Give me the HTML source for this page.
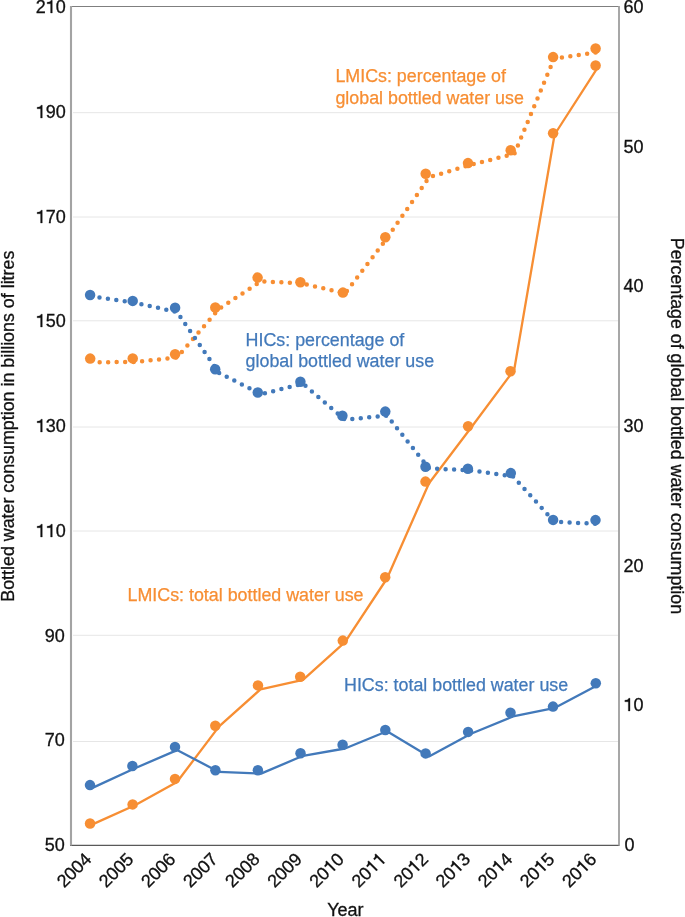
<!DOCTYPE html>
<html><head><meta charset="utf-8"><title>Bottled water consumption</title>
<style>
html,body{margin:0;padding:0;background:#fff;}
body{width:685px;height:917px;overflow:hidden;}
svg{display:block;will-change:transform;}
.t{font-family:"Liberation Sans",sans-serif;font-size:18px;fill:#111;stroke:#111;stroke-width:0.3px;}
.s{font-family:"Liberation Sans",sans-serif;font-size:17.85px;stroke-width:0.25px;}
</style></head><body>
<svg width="685" height="917" viewBox="0 0 685 917">
<line x1="73" y1="112.7" x2="618" y2="112.7" stroke="#E6E6E6" stroke-width="1"/>
<line x1="73" y1="217.0" x2="618" y2="217.0" stroke="#E6E6E6" stroke-width="1"/>
<line x1="73" y1="320.8" x2="618" y2="320.8" stroke="#E6E6E6" stroke-width="1"/>
<line x1="73" y1="427.0" x2="618" y2="427.0" stroke="#E6E6E6" stroke-width="1"/>
<line x1="73" y1="531.0" x2="618" y2="531.0" stroke="#E6E6E6" stroke-width="1"/>
<line x1="73" y1="635.3" x2="618" y2="635.3" stroke="#E6E6E6" stroke-width="1"/>
<line x1="73" y1="741.5" x2="618" y2="741.5" stroke="#E6E6E6" stroke-width="1"/>
<line x1="70.5" y1="6.5" x2="619" y2="6.5" stroke="#7F7F7F" stroke-width="1"/>
<line x1="70" y1="845.3" x2="619.5" y2="845.3" stroke="#595959" stroke-width="1.3"/>
<line x1="71" y1="6" x2="71" y2="845.5" stroke="#A3A3A3" stroke-width="2.1"/>
<line x1="619" y1="6" x2="619" y2="845.5" stroke="#9E9E9E" stroke-width="1.8"/>
<g><text x="35.77" y="13" class="t">2&#8199;0</text><path d="M52.29,13.00 L52.29,0.24 L51.03,0.24 L50.64,1.03 L49.92,1.75 L48.66,2.11 L47.13,2.24 L47.13,3.78 L50.60,3.78 L50.60,13.00Z" fill="#111" stroke="#111" stroke-width="0.3"/></g>
<g><text x="35.77" y="118" class="t">&#8199;90</text><path d="M42.28,118.00 L42.28,105.24 L41.02,105.24 L40.63,106.03 L39.91,106.75 L38.65,107.11 L37.12,107.24 L37.12,108.78 L40.59,108.78 L40.59,118.00Z" fill="#111" stroke="#111" stroke-width="0.3"/></g>
<g><text x="35.77" y="223" class="t">&#8199;70</text><path d="M42.28,223.00 L42.28,210.24 L41.02,210.24 L40.63,211.03 L39.91,211.75 L38.65,212.11 L37.12,212.24 L37.12,213.78 L40.59,213.78 L40.59,223.00Z" fill="#111" stroke="#111" stroke-width="0.3"/></g>
<g><text x="35.77" y="327" class="t">&#8199;50</text><path d="M42.28,327.00 L42.28,314.24 L41.02,314.24 L40.63,315.03 L39.91,315.75 L38.65,316.11 L37.12,316.24 L37.12,317.78 L40.59,317.78 L40.59,327.00Z" fill="#111" stroke="#111" stroke-width="0.3"/></g>
<g><text x="35.77" y="432" class="t">&#8199;30</text><path d="M42.28,432.00 L42.28,419.24 L41.02,419.24 L40.63,420.03 L39.91,420.75 L38.65,421.11 L37.12,421.24 L37.12,422.78 L40.59,422.78 L40.59,432.00Z" fill="#111" stroke="#111" stroke-width="0.3"/></g>
<g><text x="35.77" y="537" class="t">&#8199;&#8199;0</text><path d="M42.28,537.00 L42.28,524.24 L41.02,524.24 L40.63,525.03 L39.91,525.75 L38.65,526.11 L37.12,526.24 L37.12,527.78 L40.59,527.78 L40.59,537.00Z M52.29,537.00 L52.29,524.24 L51.03,524.24 L50.64,525.03 L49.92,525.75 L48.66,526.11 L47.13,526.24 L47.13,527.78 L50.60,527.78 L50.60,537.00Z" fill="#111" stroke="#111" stroke-width="0.3"/></g>
<g><text x="44.78" y="642" class="t">90</text></g>
<g><text x="44.78" y="746" class="t">70</text></g>
<g><text x="44.78" y="851" class="t">50</text></g>
<g><text x="623.50" y="13" class="t">60</text></g>
<g><text x="623.50" y="153" class="t">50</text></g>
<g><text x="623.50" y="292" class="t">40</text></g>
<g><text x="623.50" y="432" class="t">30</text></g>
<g><text x="623.50" y="572" class="t">20</text></g>
<g><text x="623.50" y="711" class="t">&#8199;0</text><path d="M630.02,711.00 L630.02,698.24 L628.76,698.24 L628.36,699.03 L627.64,699.75 L626.38,700.11 L624.85,700.24 L624.85,701.78 L628.32,701.78 L628.32,711.00Z" fill="#111" stroke="#111" stroke-width="0.3"/></g>
<g><text x="624.50" y="851" class="t">0</text></g>
<g transform="rotate(-45 92.5 860.3)"><text x="52.46" y="860.3" class="t">2004</text></g>
<g transform="rotate(-45 134.6 860.3)"><text x="94.56" y="860.3" class="t">2005</text></g>
<g transform="rotate(-45 176.7 860.3)"><text x="136.66" y="860.3" class="t">2006</text></g>
<g transform="rotate(-45 218.8 860.3)"><text x="178.76" y="860.3" class="t">2007</text></g>
<g transform="rotate(-45 260.9 860.3)"><text x="220.86" y="860.3" class="t">2008</text></g>
<g transform="rotate(-45 303.0 860.3)"><text x="262.96" y="860.3" class="t">2009</text></g>
<g transform="rotate(-45 345.1 860.3)"><text x="305.06" y="860.3" class="t">20&#8199;0</text><path d="M331.59,860.30 L331.59,847.54 L330.33,847.54 L329.94,848.33 L329.22,849.05 L327.96,849.41 L326.43,849.54 L326.43,851.08 L329.90,851.08 L329.90,860.30Z" fill="#111" stroke="#111" stroke-width="0.3"/></g>
<g transform="rotate(-45 387.2 860.3)"><text x="347.16" y="860.3" class="t">20&#8199;&#8199;</text><path d="M373.69,860.30 L373.69,847.54 L372.43,847.54 L372.04,848.33 L371.32,849.05 L370.06,849.41 L368.53,849.54 L368.53,851.08 L372.00,851.08 L372.00,860.30Z M383.71,860.30 L383.71,847.54 L382.45,847.54 L382.05,848.33 L381.33,849.05 L380.07,849.41 L378.54,849.54 L378.54,851.08 L382.01,851.08 L382.01,860.30Z" fill="#111" stroke="#111" stroke-width="0.3"/></g>
<g transform="rotate(-45 429.3 860.3)"><text x="389.26" y="860.3" class="t">20&#8199;2</text><path d="M415.79,860.30 L415.79,847.54 L414.53,847.54 L414.14,848.33 L413.42,849.05 L412.16,849.41 L410.63,849.54 L410.63,851.08 L414.10,851.08 L414.10,860.30Z" fill="#111" stroke="#111" stroke-width="0.3"/></g>
<g transform="rotate(-45 471.4 860.3)"><text x="431.36" y="860.3" class="t">20&#8199;3</text><path d="M457.89,860.30 L457.89,847.54 L456.63,847.54 L456.24,848.33 L455.52,849.05 L454.26,849.41 L452.73,849.54 L452.73,851.08 L456.20,851.08 L456.20,860.30Z" fill="#111" stroke="#111" stroke-width="0.3"/></g>
<g transform="rotate(-45 513.5 860.3)"><text x="473.46" y="860.3" class="t">20&#8199;4</text><path d="M499.99,860.30 L499.99,847.54 L498.73,847.54 L498.34,848.33 L497.62,849.05 L496.36,849.41 L494.83,849.54 L494.83,851.08 L498.30,851.08 L498.30,860.30Z" fill="#111" stroke="#111" stroke-width="0.3"/></g>
<g transform="rotate(-45 555.6 860.3)"><text x="515.56" y="860.3" class="t">20&#8199;5</text><path d="M542.09,860.30 L542.09,847.54 L540.83,847.54 L540.44,848.33 L539.72,849.05 L538.46,849.41 L536.93,849.54 L536.93,851.08 L540.40,851.08 L540.40,860.30Z" fill="#111" stroke="#111" stroke-width="0.3"/></g>
<g transform="rotate(-45 597.7 860.3)"><text x="557.66" y="860.3" class="t">20&#8199;6</text><path d="M584.19,860.30 L584.19,847.54 L582.93,847.54 L582.54,848.33 L581.82,849.05 L580.56,849.41 L579.03,849.54 L579.03,851.08 L582.50,851.08 L582.50,860.30Z" fill="#111" stroke="#111" stroke-width="0.3"/></g>
<text x="345.4" y="916.1" text-anchor="middle" class="t">Year</text>
<text transform="translate(13.5,426.2) rotate(-90)" text-anchor="middle" class="t" style="font-size:17.85px">Bottled water consumption in billions of litres</text>
<text transform="translate(671.2,425.9) rotate(90)" text-anchor="middle" class="t" style="font-size:17.82px">Percentage of global bottled water consumption</text>
<polyline points="93.00,824.15 135.00,805.20 177.00,782.00 219.10,726.40 260.50,689.30 303.00,679.80 345.00,642.20 387.00,578.50 429.00,483.20 471.00,427.70 514.20,369.70 554.60,134.50 597.00,68.60" fill="none" stroke="#F78E33" stroke-width="2.3" stroke-linejoin="round"/>
<polyline points="93.00,787.60 135.00,768.25 177.00,750.10 219.00,771.90 261.00,773.60 303.00,755.80 345.00,748.50 387.00,731.20 429.00,756.40 471.00,733.75 513.00,716.40 555.00,707.80 597.00,685.60" fill="none" stroke="#4279BA" stroke-width="2.3" stroke-linejoin="round"/>
<polyline points="93.00,362.20 135.00,362.00 177.00,357.50 219.00,308.80 261.00,281.30 303.00,283.50 345.00,293.60 387.00,238.20 429.00,177.30 471.00,164.70 514.40,153.80 554.10,58.60 597.00,52.30" fill="none" stroke="#F78E33" stroke-width="4.5" stroke-linecap="round" stroke-dasharray="0 8.5" stroke-dashoffset="1.85"/>
<polyline points="93.00,296.50 135.00,302.75 177.00,312.10 219.00,372.80 261.00,394.15 303.00,383.75 345.00,419.80 387.00,415.55 429.00,468.30 471.00,470.40 513.00,476.40 554.20,521.60 597.00,523.90" fill="none" stroke="#4279BA" stroke-width="4.5" stroke-linecap="round" stroke-dasharray="0 8.495" stroke-dashoffset="1.93"/>
<circle cx="90.06" cy="823.5" r="5.25" fill="#F78E33"/>
<circle cx="132.6" cy="804.4" r="5.25" fill="#F78E33"/>
<circle cx="175.0" cy="778.9" r="5.25" fill="#F78E33"/>
<circle cx="215.3" cy="725.7" r="5.25" fill="#F78E33"/>
<circle cx="257.95" cy="685.4" r="5.25" fill="#F78E33"/>
<circle cx="300.2" cy="676.8" r="5.25" fill="#F78E33"/>
<circle cx="342.8" cy="640.6" r="5.25" fill="#F78E33"/>
<circle cx="385.2" cy="577.2" r="5.25" fill="#F78E33"/>
<circle cx="425.5" cy="481.6" r="5.25" fill="#F78E33"/>
<circle cx="468.1" cy="426.3" r="5.25" fill="#F78E33"/>
<circle cx="510.5" cy="371.3" r="5.25" fill="#F78E33"/>
<circle cx="553.1" cy="133.3" r="5.25" fill="#F78E33"/>
<circle cx="595.6" cy="65.5" r="5.25" fill="#F78E33"/>
<circle cx="90.0" cy="785.1" r="5.25" fill="#4279BA"/>
<circle cx="132.4" cy="766.0" r="5.25" fill="#4279BA"/>
<circle cx="175.0" cy="746.9" r="5.25" fill="#4279BA"/>
<circle cx="215.4" cy="770.2" r="5.25" fill="#4279BA"/>
<circle cx="257.9" cy="770.2" r="5.25" fill="#4279BA"/>
<circle cx="300.5" cy="753.3" r="5.25" fill="#4279BA"/>
<circle cx="342.6" cy="744.8" r="5.25" fill="#4279BA"/>
<circle cx="385.3" cy="730.0" r="5.25" fill="#4279BA"/>
<circle cx="425.6" cy="753.4" r="5.25" fill="#4279BA"/>
<circle cx="468.1" cy="731.9" r="5.25" fill="#4279BA"/>
<circle cx="510.5" cy="712.7" r="5.25" fill="#4279BA"/>
<circle cx="553.0" cy="706.6" r="5.25" fill="#4279BA"/>
<circle cx="595.8" cy="683.2" r="5.25" fill="#4279BA"/>
<circle cx="90.2" cy="358.6" r="5.25" fill="#F78E33"/>
<circle cx="132.7" cy="358.4" r="5.25" fill="#F78E33"/>
<circle cx="175.1" cy="354.3" r="5.25" fill="#F78E33"/>
<circle cx="215.3" cy="307.5" r="5.25" fill="#F78E33"/>
<circle cx="257.6" cy="277.6" r="5.25" fill="#F78E33"/>
<circle cx="300.4" cy="282.2" r="5.25" fill="#F78E33"/>
<circle cx="342.9" cy="292.6" r="5.25" fill="#F78E33"/>
<circle cx="385.3" cy="237.2" r="5.25" fill="#F78E33"/>
<circle cx="425.7" cy="173.8" r="5.25" fill="#F78E33"/>
<circle cx="468.0" cy="163.1" r="5.25" fill="#F78E33"/>
<circle cx="510.7" cy="150.3" r="5.25" fill="#F78E33"/>
<circle cx="553.1" cy="57.1" r="5.25" fill="#F78E33"/>
<circle cx="595.6" cy="48.5" r="5.25" fill="#F78E33"/>
<circle cx="90.1" cy="295.0" r="5.25" fill="#4279BA"/>
<circle cx="132.7" cy="300.9" r="5.25" fill="#4279BA"/>
<circle cx="175.1" cy="307.7" r="5.25" fill="#4279BA"/>
<circle cx="215.2" cy="369.2" r="5.25" fill="#4279BA"/>
<circle cx="257.8" cy="392.5" r="5.25" fill="#4279BA"/>
<circle cx="300.4" cy="381.7" r="5.25" fill="#4279BA"/>
<circle cx="342.4" cy="415.7" r="5.25" fill="#4279BA"/>
<circle cx="385.3" cy="411.6" r="5.25" fill="#4279BA"/>
<circle cx="425.5" cy="466.8" r="5.25" fill="#4279BA"/>
<circle cx="467.9" cy="468.7" r="5.25" fill="#4279BA"/>
<circle cx="510.8" cy="473.1" r="5.25" fill="#4279BA"/>
<circle cx="553.1" cy="519.9" r="5.25" fill="#4279BA"/>
<circle cx="595.5" cy="520.1" r="5.25" fill="#4279BA"/>
<text x="335.4" y="82.2" fill="#F78E33" stroke="#F78E33" class="s">LMICs: percentage of</text>
<text x="335.4" y="103.6" fill="#F78E33" stroke="#F78E33" class="s">global bottled water use</text>
<text x="245.6" y="346.1" fill="#4279BA" stroke="#4279BA" class="s">HICs: percentage of</text>
<text x="245.6" y="366.6" fill="#4279BA" stroke="#4279BA" class="s">global bottled water use</text>
<text x="127.5" y="600.8" fill="#F78E33" stroke="#F78E33" class="s">LMICs: total bottled water use</text>
<text x="344" y="690.7" fill="#4279BA" stroke="#4279BA" class="s">HICs: total bottled water use</text>
</svg>
</body></html>
